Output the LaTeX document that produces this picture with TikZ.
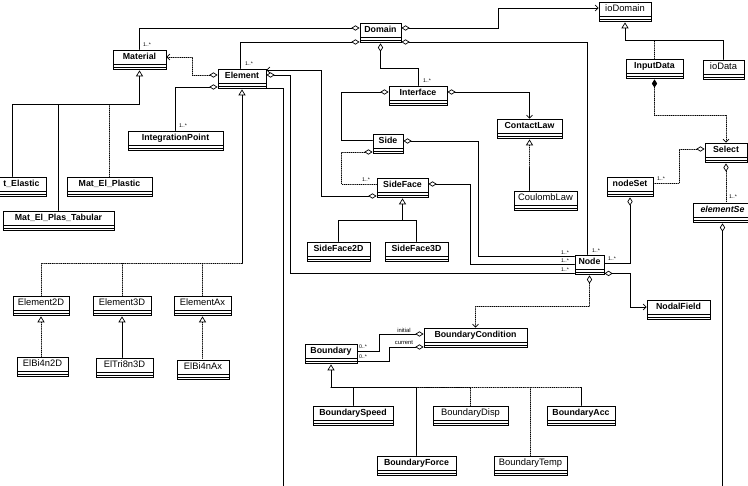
\documentclass[tikz,border=0pt]{standalone}
\usepackage{fontspec}
\setmainfont{Liberation Sans}
\usetikzlibrary{arrows.meta,calc}

\begin{document}
\begin{tikzpicture}[x=0.03cm,y=-0.03cm,line cap=round,
  box/.style={draw,line width=0.8pt,fill=white,inner xsep=1pt,inner ysep=2pt,
    text height=6pt,text depth=7pt,minimum width=#1*0.03cm,
    path picture={
      \draw[line width=0.5pt] ([yshift=5.2pt]path picture bounding box.south west) -- ([yshift=5.2pt]path picture bounding box.south east);
      \draw[line width=0.5pt] ([yshift=2.6pt]path picture bounding box.south west) -- ([yshift=2.6pt]path picture bounding box.south east);}},
  cls/.style={box=#1,font=\fontsize{7.5}{9}\selectfont\bfseries},
  clsl/.style={box=#1,font=\fontsize{8}{9}\selectfont},
  mult/.style={font=\fontsize{4.5}{5}\selectfont,inner sep=0pt},
  role/.style={font=\fontsize{5}{6}\selectfont,inner sep=0pt},
  rel/.style={line width=0.6pt},
  dep/.style={rel,densely dotted},
  agg/.style={rel,{Diamond[open,length=7pt,width=4.5pt]}-},
  aggto/.style={rel,{Diamond[open,length=7pt,width=4.5pt]}-{Straight Barb[length=2.5pt,width=5pt]}},
  compto/.style={rel,{Diamond[length=7pt,width=4.5pt]}-{Straight Barb[length=2.5pt,width=5pt]}},
  gen/.style={rel,{Triangle[open,length=5pt,width=6pt]}-}]
\useasboundingbox (0,0) rectangle (748,486);
\clip (0,0) rectangle (748,486);

% classes
\node[cls=41] (domain) at (380.5,33) {Domain};
\node[clsl=52] (iodomain) at (625,12) {ioDomain};
\node[cls=53] (material) at (139.5,60) {Material};
\node[cls=48] (element) at (242,79) {Element};
\node[cls=95] (intpoint) at (175.5,141) {IntegrationPoint};
\node[cls=58] (interface) at (418,96) {Interface};
\node[cls=30] (side) at (388,144) {Side};
\node[cls=65] (contactlaw) at (529.5,129) {ContactLaw};
\node[cls=51] (sideface) at (402.5,188) {SideFace};
\node[cls=63] (sideface2d) at (338.5,252) {SideFace2D};
\node[cls=63] (sideface3d) at (416.5,252) {SideFace3D};
\node[clsl=63] (coulomblaw) at (545.5,201) {CoulombLaw};
\node[cls=42] (select) at (726,153) {Select};
\node[cls=46] (nodeset) at (630,187) {nodeSet};
\node[cls=59] (elementset) at (722.5,213) {\itshape elementSe};
\node[cls=57] (inputdata) at (654.5,69) {InputData};
\node[clsl=41] (iodata) at (723.5,70) {ioData};
\node[cls=29] (node) at (589.5,265) {Node};
\node[cls=63] (nodalfield) at (678.5,310) {NodalField};
\node[cls=103] (bcond) at (475.5,338) {BoundaryCondition};
\node[cls=52] (boundary) at (331,354) {Boundary};
\node[cls=80] (bspeed) at (353,416) {BoundarySpeed};
\node[clsl=75] (bdisp) at (470.5,416) {BoundaryDisp};
\node[cls=68] (bacc) at (581,416) {BoundaryAcc};
\node[cls=79] (bforce) at (416.5,466) {BoundaryForce};
\node[clsl=73] (btemp) at (530.5,466) {BoundaryTemp};
\node[cls=49] (matelastic) at (21.5,187) {t\_Elastic};
\node[cls=85] (matplastic) at (109.5,187) {Mat\_El\_Plastic};
\node[cls=111] (mattabular) at (58.5,221) {Mat\_El\_Plas\_Tabular};
\node[clsl=56] (element2d) at (41,306) {Element2D};
\node[clsl=58] (element3d) at (122,306) {Element3D};
\node[clsl=57] (elementax) at (202.5,306) {ElementAx};
\node[clsl=51] (elbi2d) at (42.5,367) {ElBi4n2D};
\node[clsl=57] (eltri3d) at (124.5,368) {ElTri8n3D};
\node[clsl=52] (elbiax) at (203,370) {ElBi4nAx};
\coordinate (elbottom) at (283,486);
\coordinate (esbottom) at (722.5,486);

% associations
\draw[agg] ($(domain.west)+(0,-5)$) -| (material.north);
\draw[agg] ($(domain.west)+(0,9)$) -| ($(element.north)+(-2,0)$);
\draw[aggto] ($(domain.east)+(0,-5)$) -- ++(97,0) |- ($(iodomain.west)+(0,-4)$);
\draw[agg] ($(domain.east)+(0,9)$) -| ($(node.north)+(-2,0)$);
\draw[agg] (domain.south) -- ++(0,25) -| (interface.north);
\draw[agg] ($(interface.west)+(0,-4)$) -- ++(-47,0) |- ($(side.west)+(0,-4)$);
\draw[aggto] ($(interface.east)+(0,-4)$) -| (contactlaw.north);
\draw[agg] ($(side.east)+(0,-3)$) -- ++(75,0) |- ($(node.north west)+(0,2)$);
\draw[agg,dep] ($(side.west)+(0,8)$) -- ++(-31,0) |- ($(sideface.west)+(0,-4)$);
\draw[agg] ($(sideface.east)+(0,-4)$) -- ++(42,0) |- ($(node.west)+(0,-1)$);
\draw[aggto] ($(sideface.west)+(0,8)$) -- ++(-55,0) |- ($(element.east)+(0,-9)$);
\draw[agg] ($(element.east)+(0,-4)$) -- ++(24,0) |- ($(node.south west)+(0,-2)$);
\draw[aggto,dep] ($(element.west)+(0,-4)$) -- ++(-25,0) |- ($(material.east)+(0,-3)$);
\draw[agg] ($(element.west)+(0,8)$) -| (intpoint.north);
\draw[rel] ($(element.south east)+(0,-1)$) -| (elbottom);
\draw[compto,dep] (inputdata.south) -- ++(0,36) -| (select.north);
\draw[agg,dep] ($(select.west)+(0,-4)$) -- ++(-25,0) |- ($(nodeset.east)+(0,-4)$);
\draw[agg,dep] (select.south) -- (select.south |- elementset.north);
\draw[agg] (nodeset.south) |- ($(node.east)+(0,-2)$);
\draw[agg] (elementset.south) -- (esbottom);
\draw[aggto] ($(node.south east)+(0,-2)$) -- ++(26,0) |- ($(nodalfield.west)+(0,-3)$);
\draw[aggto,dep] (node.south) -- ++(0,31) -| (bcond.north);
\draw[agg] ($(bcond.west)+(0,-4)$) -- ++(-44,0) |- ($(boundary.east)+(0,-3)$);
\draw[agg] ($(bcond.west)+(0,9)$) -- ++(-34,0) |- ($(boundary.east)+(0,7)$);

% generalizations
\draw[gen] (element.south) -- ++(0,174) coordinate (eljoin);
\draw[dep] (eljoin) -| (element2d.north);
\draw[dep] (element3d.north) -- (element3d.north |- eljoin);
\draw[dep] (elementax.north) -- (elementax.north |- eljoin);
\draw[gen,dep] (element2d.south) -- (element2d.south |- elbi2d.north);
\draw[gen] (element3d.south) -- (element3d.south |- eltri3d.north);
\draw[gen,dep] (elementax.south) -- (elementax.south |- elbiax.north);
\draw[gen] (material.south) -- ++(0,34) coordinate (matjoin);
\draw[rel] (matjoin) -| ($(matelastic.north)+(-9,0)$);
\draw[rel] (mattabular.north) -- (mattabular.north |- matjoin);
\draw[dep] (matplastic.north) -- (matplastic.north |- matjoin);
\draw[gen] (sideface.south) -- ++(0,22) coordinate (sfjoin);
\draw[rel] (sideface2d.north) |- (sfjoin);
\draw[rel] (sideface3d.north) |- (sfjoin);
\draw[gen,dep] (contactlaw.south) -- ++(0,28) coordinate (cljoin);
\draw[rel] (cljoin) -- (cljoin |- coulomblaw.north);
\draw[gen] (iodomain.south) -- ++(0,18) coordinate (iojoin) -| (iodata.north);
\draw[dep] (inputdata.north) -- (inputdata.north |- iojoin);
\draw[gen] (boundary.south) -- ++(0,23) coordinate (bjoin);
\draw[rel] (bjoin) -| (bspeed.north);
\draw[rel] (bforce.north) |- (bjoin);
\draw[dep] (bdisp.north) |- (bforce.north |- bjoin);
\draw[dep] (btemp.north) |- (bforce.north |- bjoin);
\draw[rel] (bacc.north) -- (bacc.north |- bjoin);
\draw[dep] (bacc.north |- bjoin) -- (btemp.north |- bjoin);

% multiplicities and roles
\node[mult] (m1) at (147,45) {1..*};
\node[mult] (m2) at (249,64) {1..*};
\node[mult] (m3) at (427,81) {1..*};
\node[mult] (m4) at (183,126) {1..*};
\node[mult] (m5) at (366,180) {1..*};
\node[mult] (m6) at (565,253) {1..*};
\node[mult] (m7) at (565,261) {1..*};
\node[mult] (m8) at (565,270) {1..*};
\node[mult] (m9) at (596,251) {1..*};
\node[mult] (m10) at (612,259) {1..*};
\node[mult] (m11) at (661,179) {1..*};
\node[mult] (m12) at (733,197) {1..*};
\node[mult] (m13) at (363,347) {0..*};
\node[mult] (m14) at (363,357) {0..*};
\node[role] (linit) at (404,330) {initial};
\node[role] (lcur) at (404,343) {current};
\end{tikzpicture}
\end{document}
